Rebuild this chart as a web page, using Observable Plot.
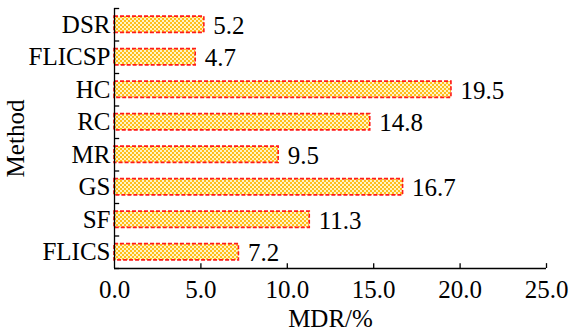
<!DOCTYPE html>
<html>
<head>
<meta charset="utf-8">
<script src="https://cdn.jsdelivr.net/npm/d3@7"></script>
<script src="https://cdn.jsdelivr.net/npm/@observablehq/plot@0.6"></script>
<style>
  html, body { margin: 0; padding: 0; background: #fff; }
</style>
</head>
<body>
<div id="chart"></div>
<script>
const methods = ["DSR", "FLICSP", "HC", "RC", "MR", "GS", "SF", "FLICS"];
const mdr = [5.2, 4.7, 19.5, 14.8, 9.5, 16.7, 11.3, 7.2];
const xTicks = [0, 5, 10, 15, 20, 25];
const bandEdges = [-0.5, 0.5, 1.5, 2.5, 3.5, 4.5, 5.5, 6.5, 7.5];

const data = methods.map((m, i) => ({method: m, i, value: mdr[i]}));

const chart = Plot.plot({
  width: 569,
  height: 336,
  marginLeft: 114,
  marginRight: 23,
  marginTop: 8,
  marginBottom: 68,
  style: {fontFamily: "'Liberation Serif', 'Times New Roman', serif", fontSize: "25px", background: "#fff", color: "#000"},
  x: {domain: [0, 25]},
  y: {domain: [7.5, -0.5]},
  marks: [
    Plot.rectX(data, {
      x1: 0, x2: "value",
      y1: d => d.i - 0.25, y2: d => d.i + 0.25,
      fill: "url(#checker)",
      stroke: "#ff1a1a",
      strokeWidth: 1.6,
      strokeDasharray: "4,2"
    }),
    Plot.text(data, {
      x: "value", y: "i",
      text: d => d.value.toFixed(1),
      textAnchor: "start",
      dx: 9, dy: 1,
      fill: "#000"
    }),
    Plot.ruleX([0], {stroke: "#000", strokeWidth: 1.3}),
    Plot.ruleY([7.5], {stroke: "#000", strokeWidth: 1.3}),
    Plot.ruleY(bandEdges, {x1: 0, x2: 0.3, stroke: "#000", strokeWidth: 1.3}),
    Plot.ruleX(xTicks.slice(1), {y1: 7.5, y2: 7.35, stroke: "#000", strokeWidth: 1.3}),
    Plot.axisX({
      ticks: xTicks,
      tickFormat: d => d.toFixed(1),
      tickSize: 0,
      tickPadding: 12,
      label: "MDR/%",
      labelAnchor: "center",
      labelArrow: "none",
      labelOffset: 58
    }),
    Plot.axisY({
      ticks: d3.range(methods.length),
      tickFormat: i => methods[i],
      tickSize: 0,
      tickPadding: 4,
      label: "Method",
      labelAnchor: "center",
      labelArrow: "none",
      labelOffset: 108
    })
  ]
});

const ns = "http://www.w3.org/2000/svg";
const defs = document.createElementNS(ns, "defs");
defs.innerHTML = `<pattern id="checker" width="4" height="4" patternUnits="userSpaceOnUse">
  <rect width="4" height="4" fill="#fff4c4"/>
  <rect x="0" y="0" width="2" height="2" fill="#ffbe1a"/>
  <rect x="2" y="2" width="2" height="2" fill="#ffbe1a"/>
</pattern>`;
chart.insertBefore(defs, chart.firstChild);

document.getElementById("chart").appendChild(chart);
</script>
</body>
</html>
